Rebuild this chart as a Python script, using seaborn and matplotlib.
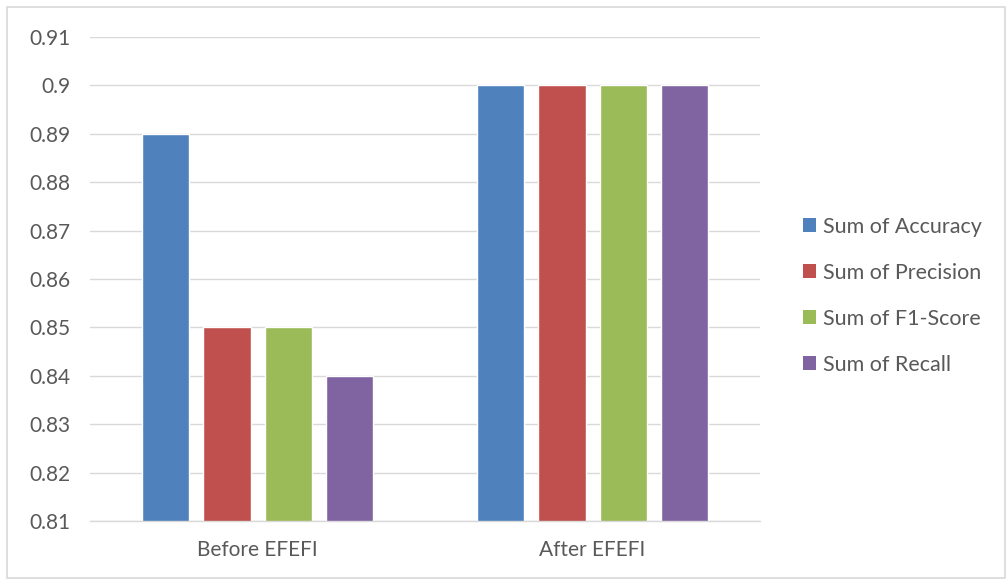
import matplotlib
matplotlib.use("Agg")
import matplotlib.pyplot as plt
import seaborn as sns
import pandas as pd
from matplotlib.patches import Rectangle, Patch

categories = ["Before EFEFI", "After EFEFI"]
series = ["Sum of Accuracy", "Sum of Precision", "Sum of F1-Score", "Sum of Recall"]
accuracy = [0.89, 0.90]
precision = [0.85, 0.90]
f1_score = [0.85, 0.90]
recall = [0.84, 0.90]
yticks = [0.81, 0.82, 0.83, 0.84, 0.85, 0.86, 0.87, 0.88, 0.89, 0.90, 0.91]
ytick_labels = ["0.81", "0.82", "0.83", "0.84", "0.85", "0.86", "0.87", "0.88", "0.89", "0.9", "0.91"]
colors = ["#4F81BD", "#C0504D", "#9BBB59", "#8064A2"]

rows = []
for s, vals in zip(series, [accuracy, precision, f1_score, recall]):
    for c, v in zip(categories, vals):
        rows.append({"Category": c, "Series": s, "Value": v})
df = pd.DataFrame(rows)

sns.set_theme(style="white")
plt.rcParams["font.family"] = ["Lato", "DejaVu Sans"]

fig = plt.figure(figsize=(10.06, 5.80), dpi=100)
ax = fig.add_axes([0.0895, 0.1017, 0.666, 0.8345])

sns.barplot(data=df, x="Category", y="Value", hue="Series", order=categories,
            hue_order=series, palette=colors, width=0.73, gap=0.23,
            saturation=1, ax=ax, legend=False, errorbar=None)

ax.set_ylim(0.81, 0.91)
ax.set_xlim(-0.5, 1.5)
ax.set_yticks(yticks)
ax.set_yticklabels(ytick_labels)
ax.yaxis.grid(True, color="#D9D9D9", linewidth=1)
ax.set_axisbelow(True)
for side in ["top", "right", "left"]:
    ax.spines[side].set_visible(False)
ax.spines["bottom"].set_color("#D9D9D9")
ax.spines["bottom"].set_linewidth(1)
ax.set_xlabel("")
ax.set_ylabel("")
ax.tick_params(axis="both", length=0, labelsize=15, colors="#595959")
ax.tick_params(axis="x", pad=14)
ax.tick_params(axis="y", pad=14)

handles = [Patch(facecolor=c, edgecolor="none") for c in colors]
leg = fig.legend(handles, series, loc="center left", bbox_to_anchor=(0.798, 0.49),
                 frameon=False, fontsize=15.5, labelspacing=1.2,
                 handlelength=0.62, handleheight=0.62, handletextpad=0.3,
                 borderpad=0, borderaxespad=0)
for t in leg.get_texts():
    t.set_color("#595959")

fig.patches.append(Rectangle((7 / 1006, 2 / 580), 998 / 1006, 571 / 580,
                             transform=fig.transFigure, fill=False,
                             edgecolor="#D9D9D9", linewidth=1.2))

fig.savefig("out.png", dpi=100)
